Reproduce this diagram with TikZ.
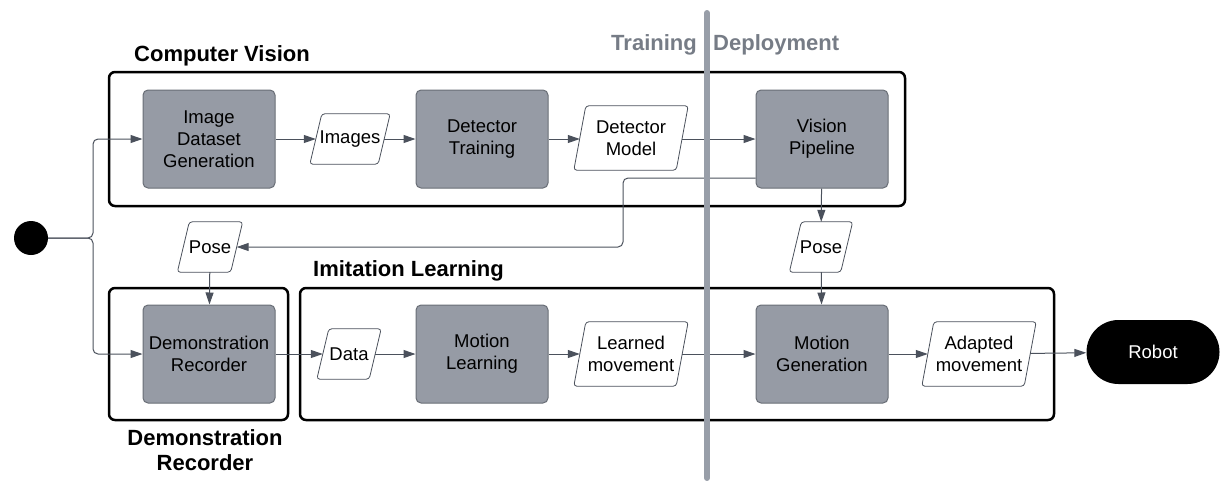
\documentclass[tikz,border=0pt]{standalone}
\usepackage{fontspec}
\setmainfont{Liberation Sans}
\usetikzlibrary{arrows.meta,calc}
\definecolor{procfill}{RGB}{150,155,165}
\definecolor{procdraw}{RGB}{105,110,118}
\definecolor{conncol}{RGB}{75,81,92}
\definecolor{barcol}{RGB}{152,158,168}
\definecolor{phasetext}{RGB}{118,124,134}
\pgfdeclarelayer{bg}
\pgfsetlayers{bg,main}
\newcommand\paral[1]{%
  \begin{pgfonlayer}{bg}
  \draw[paraline] ([xshift=6pt]#1.north west) -- ([xshift=6pt]#1.north east)
    -- ([xshift=-6pt]#1.south east) -- ([xshift=-6pt]#1.south west) -- cycle;
  \end{pgfonlayer}}
\begin{document}
\begin{tikzpicture}[x=1pt,y=-1pt,
  proc/.style={draw=procdraw, fill=procfill, line width=1pt, rounded corners=5pt,
    minimum width=132pt, minimum height=98pt, inner sep=0pt, align=center,
    font=\fontsize{18.5}{22}\selectfont},
  datab/.style={rectangle, inner sep=0pt, align=center,
    font=\fontsize{18.5}{22}\selectfont},
  paraline/.style={draw=conncol, fill=white, line width=0.8pt, rounded corners=3pt},
  group/.style={draw=black, line width=2.5pt, rounded corners=6pt, inner sep=0pt},
  conn/.style={draw=conncol, line width=1pt, -{Triangle[length=12pt,width=8pt]}},
  grouptitle/.style={font=\fontsize{22}{25}\bfseries\selectfont, inner sep=0pt},
  phase/.style={font=\fontsize{22}{25}\bfseries\selectfont, inner sep=0pt, text=phasetext}
]
\useasboundingbox (0,0) rectangle (1220,480);

% group boxes
\node[group, minimum width=796pt, minimum height=134pt] (cv) at (507,139) {};
\node[group, minimum width=179pt, minimum height=132pt] (drg) at (198.5,354) {};
\node[group, minimum width=754pt, minimum height=132pt] (il) at (677,354) {};

% titles
\node[grouptitle, anchor=west] (tcv) at (134,56) {Computer Vision};
\node[grouptitle, anchor=west] (til) at (313,271) {Imitation Learning};
\node[grouptitle, align=center] (tdr) at (205,450) {Demonstration\\Recorder};
\node[phase, anchor=east] (ttr) at (697,45) {Training};
\node[phase, anchor=west] (tdp) at (713,45) {Deployment};

% start
\node[circle, fill=black, minimum size=34pt, inner sep=0pt] (start) at (31,238) {};
\coordinate (split) at (93,238);

% process nodes
\node[proc] (idg) at (209,139) {Image\\Dataset\\Generation};
\node[proc] (dt) at (482,139) {Detector\\Training};
\node[proc] (vp) at (822,139) {Vision\\Pipeline};
\node[proc] (dr) at (209,354) {Demonstration\\Recorder};
\node[proc] (ml) at (482,354) {Motion\\Learning};
\node[proc] (mg) at (822,354) {Motion\\Generation};

% data nodes (parallelograms)
\node[datab, minimum width=68pt, minimum height=50pt] (img) at (350,139) {Images};
\node[datab, minimum width=102pt, minimum height=64pt] (dm) at (631,138) {Detector\\Model};
\node[datab, minimum width=53pt, minimum height=50pt] (pose1) at (210,247) {Pose};
\node[datab, minimum width=51pt, minimum height=50pt] (pose2) at (821,247) {Pose};
\node[datab, minimum width=52pt, minimum height=50pt] (data) at (349,354) {Data};
\node[datab, minimum width=102pt, minimum height=64pt] (lm) at (631,354) {Learned\\movement};
\node[datab, minimum width=102pt, minimum height=64pt] (am) at (979,354) {Adapted\\movement};
\paral{img}\paral{dm}\paral{pose1}\paral{pose2}\paral{data}\paral{lm}\paral{am}

% robot
\node[fill=black, text=white, rounded corners=32pt, minimum width=133pt, minimum height=64pt,
  inner sep=0pt, font=\fontsize{18.5}{22}\selectfont] (robot) at (1153,352) {Robot};

% connectors
\draw[conn, rounded corners=5pt] (start.east) -- (split) |- (idg.west);
\draw[conn, rounded corners=5pt] (start.east) -- (split) |- (dr.west);
\draw[conn] (idg) -- (img);
\draw[conn] (img) -- (dt);
\draw[conn] (dt) -- (dm.west |- dt);
\draw[conn] (dm.east |- vp) -- (vp);
\draw[conn, rounded corners=5pt] ([yshift=-39pt]vp.west) -| (623,220) |- (pose1.east);
\draw[conn] (pose1) -- (dr);
\draw[conn] (vp) -- (pose2);
\draw[conn] (pose2) -- (mg);
\draw[conn] (dr) -- (data);
\draw[conn] (data) -- (ml);
\draw[conn] (ml) -- (lm);
\draw[conn] (lm) -- (mg);
\draw[conn] (mg) -- (am);
\draw[conn] (am) -- (robot);

% phase bar
\draw[barcol, line width=6pt, line cap=round] (707,13) coordinate (bartop) -- (707,478) coordinate (barbot);
\end{tikzpicture}
\end{document}
